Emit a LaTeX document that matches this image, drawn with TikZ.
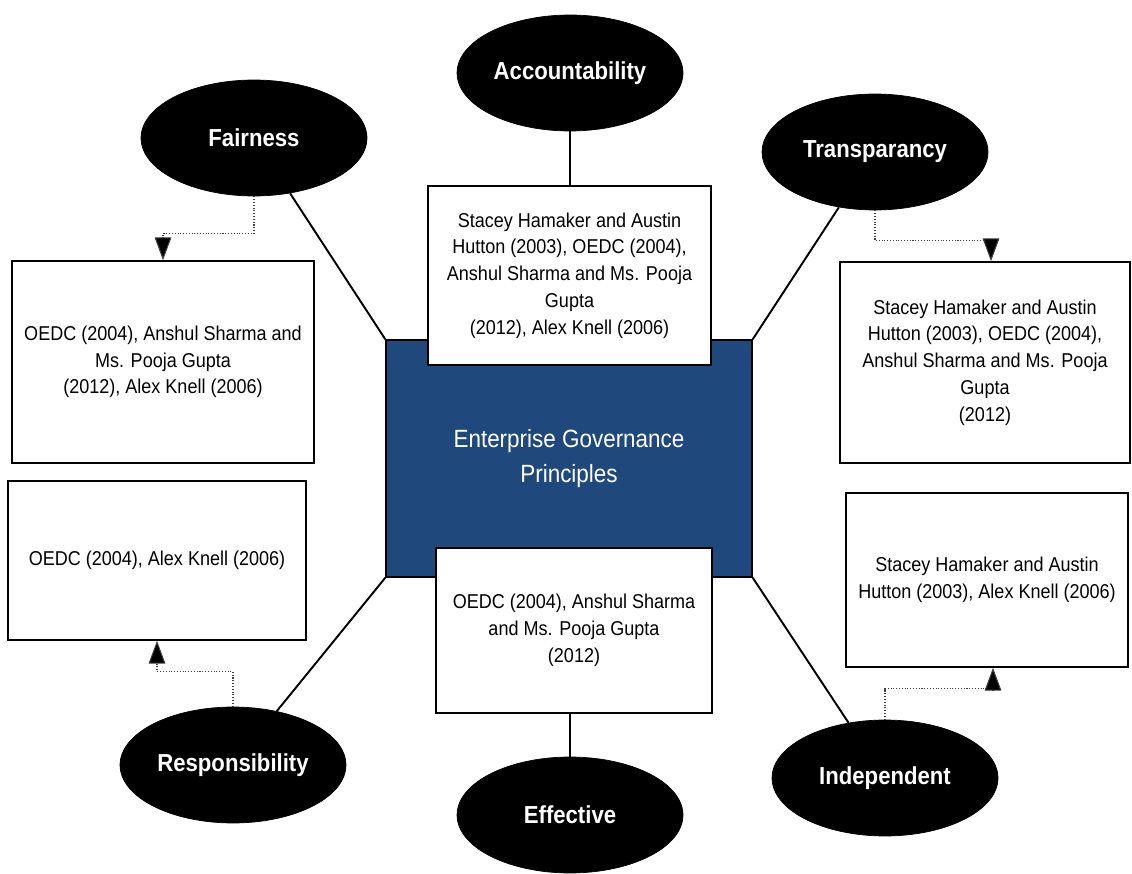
\documentclass[tikz,border=0pt]{standalone}
\usepackage{fontspec}
\setmainfont[FakeStretch=0.9]{Liberation Sans}
\usetikzlibrary{shapes.geometric,arrows.meta}

\definecolor{govBlue}{HTML}{1F497D}

\begin{document}
\begin{tikzpicture}[
    x=0.02cm, y=-0.02cm,
    % 定义统一的样式
    principle_style/.style={ellipse, fill=black, draw=black, inner sep=0,
        minimum width=4.52cm, minimum height=2.32cm, text=white,
        font=\bfseries\fontsize{14}{16}\selectfont},
    ref_style/.style={draw=black, line width=0.9pt, fill=white, align=center,
        inner sep=0, font=\fontsize{11.4}{15.2}\selectfont},
    link_style/.style={line width=1.1pt},
    dot_style/.style={densely dotted, line width=0.6pt, draw=black!75,
        -{Triangle[width=9.5pt,length=13pt,fill=black]}}
]

    % --- 绘制宏 ---
    % 文献框: 名称, 中心 x, 中心 y, 宽, 高, 文字
    \newcommand{\refbox}[6]{
        \node[ref_style, minimum width=#4*0.02cm, minimum height=#5*0.02cm] (#1) at (#2,#3) {#6};
    }

    \useasboundingbox (0,0) rectangle (1132,874);

    % 1. 中心矩形
    \node[draw=black, line width=0.9pt, fill=govBlue, text=white, align=center,
        minimum width=7.32cm, minimum height=4.74cm,
        font=\fontsize{14.2}{19.8}\selectfont] (gov) at (569,458.5)
        {Enterprise Governance\\Principles};

    % 2. 文献框
    \refbox{acc_ref}{569.5}{275.5}{283}{179}{Stacey Hamaker and Austin\\Hutton (2003), OEDC (2004),\\Anshul Sharma and Ms. Pooja\\Gupta\\(2012), Alex Knell (2006)}
    \refbox{eff_ref}{574}{630.5}{276}{165}{OEDC (2004), Anshul Sharma\\and Ms. Pooja Gupta\\(2012)}
    \refbox{fair_ref}{163}{362}{302}{202}{OEDC (2004), Anshul Sharma and\\Ms. Pooja Gupta\\(2012), Alex Knell (2006)}
    \refbox{resp_ref}{157}{560.5}{298}{159}{OEDC (2004), Alex Knell (2006)}
    \refbox{trans_ref}{985}{362.5}{290}{201}{Stacey Hamaker and Austin\\Hutton (2003), OEDC (2004),\\Anshul Sharma and Ms. Pooja\\Gupta\\(2012)}
    \refbox{ind_ref}{987}{580}{282}{174}{Stacey Hamaker and Austin\\Hutton (2003), Alex Knell (2006)}

    % 3. 原则椭圆
    \node[principle_style] (acc) at (570,73) {Accountability};
    \node[principle_style] (fair) at (254,138) {Fairness};
    \node[principle_style] (trans) at (875,152) {Transparancy};
    \node[principle_style] (resp) at (233,765) {Responsibility};
    \node[principle_style] (eff) at (570,815) {Effective};
    \node[principle_style] (ind) at (885,778) {Independent};

    % --- 连线 ---
    \draw[link_style] (acc) -- (acc |- acc_ref.north);
    \draw[link_style] (eff) -- (eff |- eff_ref.south);
    \draw[link_style] (fair) -- (gov.north west);
    \draw[link_style] (trans) -- (gov.north east);
    \draw[link_style] (resp) -- (gov.south west);
    \draw[link_style] (ind) -- (gov.south east);

    % --- 虚线箭头 ---
    \draw[dot_style] (fair.south) -- ++(0,37) -| (fair_ref.north);
    \draw[dot_style] (trans.south) -- ++(0,30) -| ([xshift=0.12cm]trans_ref.north);
    \draw[dot_style] (resp.north) -- ++(0,-35) -| (resp_ref.south);
    \draw[dot_style] (ind.north) -- ++(0,-31) -| ([xshift=0.12cm]ind_ref.south);

\end{tikzpicture}
\end{document}
